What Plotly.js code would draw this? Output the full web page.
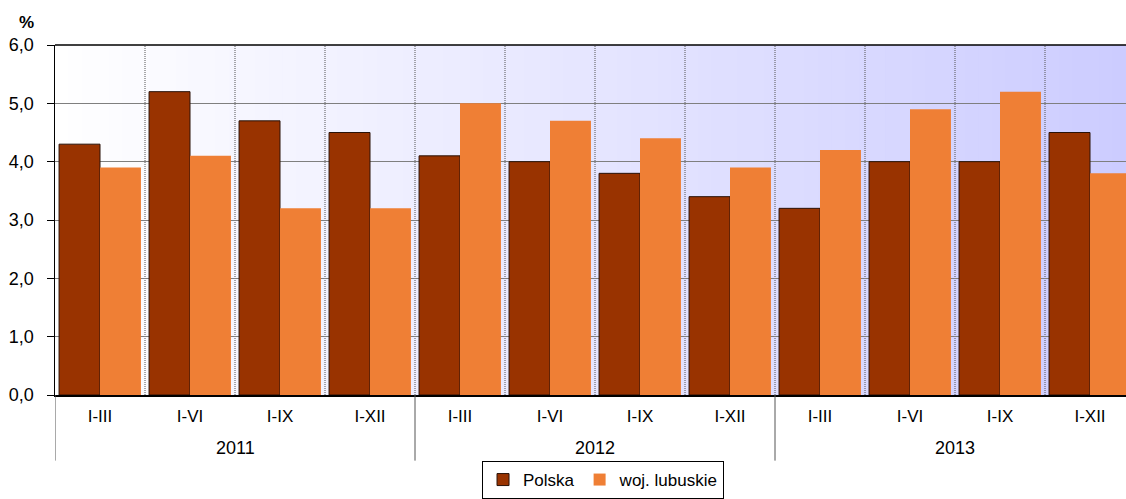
<!DOCTYPE html>
<html>
<head>
<meta charset="utf-8">
<script src="https://cdn.plot.ly/plotly-3.0.1.min.js"></script>
<style>html,body{margin:0;padding:0;background:#fff;}#chart{width:1126px;height:499px;}</style>
</head>
<body>
<div id="chart"></div>
<script>
var quarters = ["I-III","I-VI","I-IX","I-XII","I-III","I-VI","I-IX","I-XII","I-III","I-VI","I-IX","I-XII"];
var years = ["2011","2012","2013"];
var polska = [4.3, 5.2, 4.7, 4.5, 4.1, 4.0, 3.8, 3.4, 3.2, 4.0, 4.0, 4.5];
var lubuskie = [3.9, 4.1, 3.2, 3.2, 5.0, 4.7, 4.4, 3.9, 4.2, 4.9, 5.2, 3.8];
var seriesNames = ["Polska", "woj. lubuskie"];

var idx = quarters.map(function(_, i){ return i; });
var FONT = "'Liberation Sans', Arial, sans-serif";

var traces = [
  {type:"bar", name:seriesNames[0], x:idx, y:polska,
   marker:{color:"#993300", line:{color:"#2a1208", width:1}}},
  {type:"bar", name:seriesNames[1], x:idx, y:lubuskie,
   marker:{color:"#EF7F35", line:{width:0}}}
];

var shapes = [];
// background gradient (white -> lavender)
var N = 80;
for (var k = 0; k < N; k++) {
  var t = (k + 0.5) / N;
  var r = Math.round(255 - (255 - 204) * t);
  shapes.push({type:"rect", xref:"paper", yref:"paper", x0:k/N, x1:(k+1)/N + 0.002, y0:0, y1:1,
    fillcolor:"rgb("+r+","+r+",255)", line:{width:0}, layer:"below"});
}
// dotted category separators
for (var i = 0; i < quarters.length - 1; i++) {
  shapes.push({type:"line", xref:"x", yref:"paper", x0:i+0.5, x1:i+0.5, y0:0, y1:1,
    line:{color:"#555555", width:1, dash:"1px,1px"}, layer:"below"});
}
// year dividers below axis
for (var j = 0; j < years.length; j++) {
  var xb = j * 4 - 0.5;
  shapes.push({type:"line", xref:"x", yref:"paper", x0:xb, x1:xb, y0:0, y1:-0.1875,
    line:{color:"#555555", width:1}});
}
// top border
shapes.push({type:"line", xref:"paper", yref:"paper", x0:0, x1:1, y0:1, y1:1, line:{color:"#000", width:1.5}});

var annotations = years.map(function(y, j){
  return {text:y, xref:"x", yref:"paper", x:j*4+1.5, y:-0.152, showarrow:false,
    xanchor:"center", yanchor:"middle", font:{family:FONT, size:18, color:"#000"}};
});
annotations.push({text:"<b>%</b>", xref:"paper", yref:"paper", x:-0.027, y:1.063, showarrow:false,
  xanchor:"center", yanchor:"middle", font:{family:FONT, size:17, color:"#000"}});

var layout = {
  width:1126, height:499,
  margin:{l:55, r:0, t:45, b:102, pad:0},
  paper_bgcolor:"#ffffff", plot_bgcolor:"#ffffff",
  separators:", ",
  barmode:"group", bargap:0.09, bargroupgap:0,
  font:{family:FONT, size:17, color:"#000"},
  xaxis:{range:[-0.5, 11.4], tickvals:idx, ticktext:quarters, ticks:"", showgrid:false,
    zeroline:false, showline:true, linecolor:"#000", linewidth:1.5,
    tickfont:{family:FONT, size:17, color:"#000"}, ticklabelstandoff:5, fixedrange:true},
  yaxis:{range:[0,6], dtick:1, tick0:0, tickformat:".1f", ticks:"outside", ticklen:7, tickcolor:"#000",
    showgrid:true, gridcolor:"#7f7f7f", gridwidth:1, zeroline:false, showline:true, linecolor:"#000", linewidth:1.5,
    tickfont:{family:FONT, size:18, color:"#000"}, ticklabelstandoff:9, fixedrange:true},
  legend:{orientation:"h", x:0.5117, xanchor:"center", y:-0.19, yanchor:"top",
    bordercolor:"#000", borderwidth:1, bgcolor:"#fff", font:{family:FONT, size:17, color:"#000"},
    itemwidth:30, traceorder:"normal"},
  shapes:shapes, annotations:annotations, showlegend:true
};

Plotly.newPlot("chart", traces, layout, {displayModeBar:false, staticPlot:true});
</script>
</body>
</html>
